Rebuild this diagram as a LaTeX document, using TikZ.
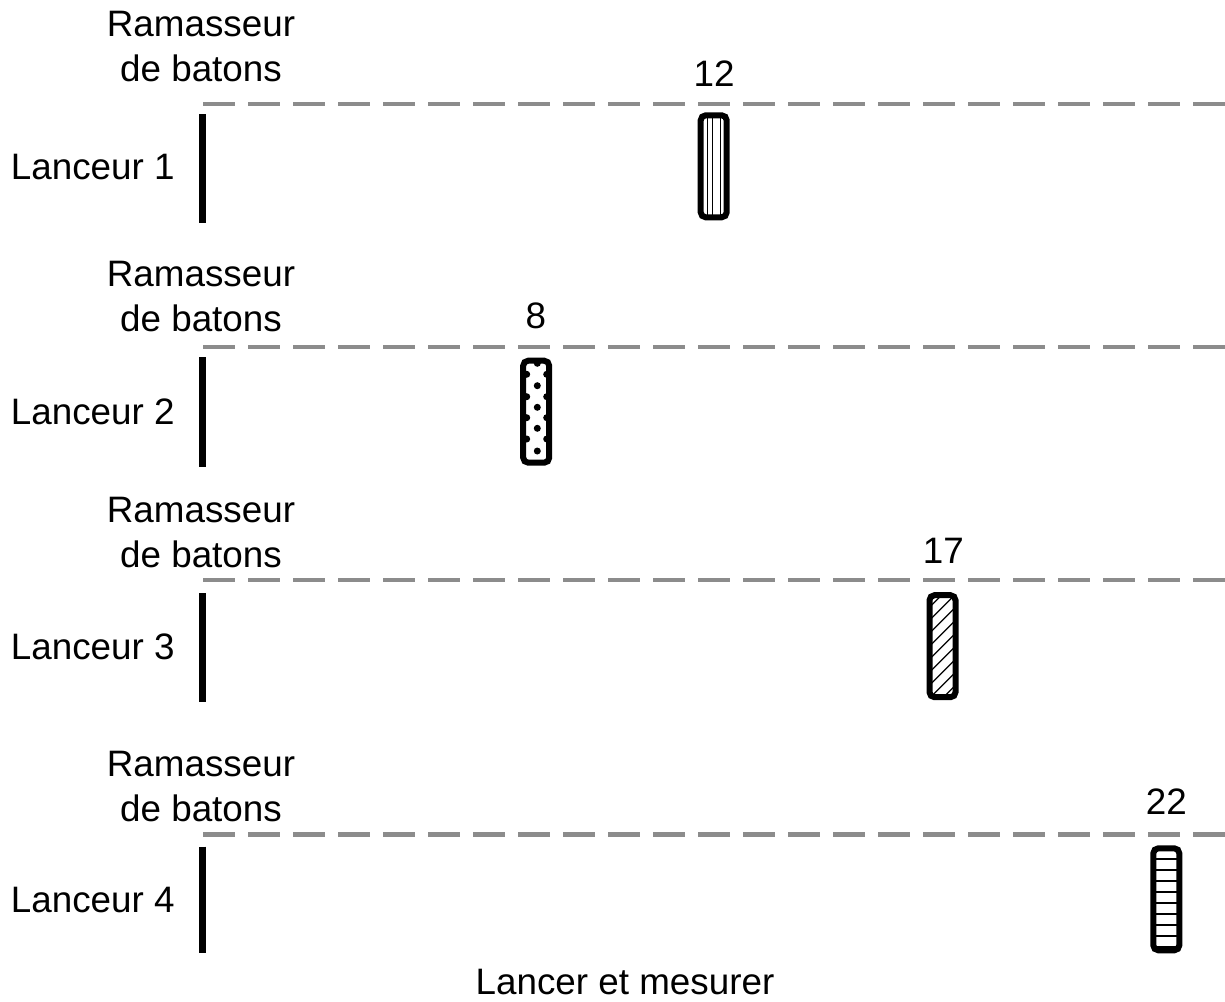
\documentclass[tikz,border=0pt]{standalone}
\usepackage{fontspec}
\setmainfont{Liberation Sans}
\begin{document}
\begin{tikzpicture}[x=0.5pt,y=-0.5pt,
  lbl/.style={font=\fontsize{18.4}{22.5}\selectfont, inner sep=0pt, align=center},
  track/.style={draw={rgb,255:red,140;green,140;blue,140}, line width=2.2pt, dash pattern=on 16pt off 6.5pt},
  bar/.style={draw=black, line width=3.5pt},
  stick/.style={draw=black, fill=white, line width=3pt, rounded corners=2.5pt,
    minimum width=13pt, minimum height=51pt, inner sep=0pt},
  hatchline/.style={draw=black, line width=0.65pt},
  dot/.style={fill=black},
  vlines/.style={path picture={
    \foreach \dx in {-3.2,-0.6,3.3}
      \draw[hatchline] ([xshift=\dx*1pt]path picture bounding box.north) -- ([xshift=\dx*1pt]path picture bounding box.south);}},
  dots/.style={path picture={
    \foreach \dy in {24.2,13,2.2,-8.3,-19.65}
      \fill[dot] ([xshift=0.55pt,yshift=\dy*1pt]path picture bounding box.center) circle[radius=1.75pt];
    \foreach \dy in {18.7,7.5,-3,-13.65}{
      \fill[dot] ([xshift=-4.75pt,yshift=\dy*1pt]path picture bounding box.center) circle[radius=1.75pt];
      \fill[dot] ([xshift=5.25pt,yshift=\dy*1pt]path picture bounding box.center) circle[radius=1.75pt];}}},
  hatch/.style={path picture={
    \foreach \k in {-7,...,7}
      \draw[hatchline] ([xshift=-12pt,yshift=\k*6.5pt-12pt]path picture bounding box.center) -- ++(24pt,24pt);}},
  hlines/.style={path picture={
    \foreach \k in {0,...,8}
      \draw[hatchline] ([yshift=20.15pt-\k*5.5pt]path picture bounding box.west) -- ([yshift=20.15pt-\k*5.5pt]path picture bounding box.east);}}
]
\useasboundingbox (0,0) rectangle (1225,1001);

% Row 1
\node[lbl] (r1) at (201,46.3) {Ramasseur\\de batons};
\node[lbl, anchor=east] (l1) at (175,167) {Lanceur 1};
\coordinate (t1s) at (203,104);
\coordinate (t1e) at (1225,104);
\coordinate (b1t) at (202,114);
\coordinate (b1b) at (202,223);
\draw[track] (t1s) -- (t1e);
\draw[bar] (b1t) -- (b1b);
\node[lbl] (n1) at (714,73.5) {12};
\node[stick, vlines] (s1) at (713.7,166.3) {};

% Row 2
\node[lbl] (r2) at (201,296.3) {Ramasseur\\de batons};
\node[lbl, anchor=east] (l2) at (175,412) {Lanceur 2};
\coordinate (t2s) at (203,347);
\coordinate (t2e) at (1225,347);
\coordinate (b2t) at (202,357);
\coordinate (b2b) at (202,466.7);
\draw[track] (t2s) -- (t2e);
\draw[bar] (b2t) -- (b2b);
\node[lbl] (n2) at (535.8,315.8) {8};
\node[stick, dots] (s2) at (536.2,411.7) {};

% Row 3
\node[lbl] (r3) at (201,533) {Ramasseur\\de batons};
\node[lbl, anchor=east] (l3) at (175,647) {Lanceur 3};
\coordinate (t3s) at (203,580);
\coordinate (t3e) at (1225,580);
\coordinate (b3t) at (202,593.3);
\coordinate (b3b) at (202,701.7);
\draw[track] (t3s) -- (t3e);
\draw[bar] (b3t) -- (b3b);
\node[lbl] (n3) at (943.3,550.8) {17};
\node[stick, hatch] (s3) at (942.5,646.2) {};

% Row 4
\node[lbl] (r4) at (201,786.3) {Ramasseur\\de batons};
\node[lbl, anchor=east] (l4) at (175,900) {Lanceur 4};
\coordinate (t4s) at (203,834.3);
\coordinate (t4e) at (1225,834.3);
\coordinate (b4t) at (202,846.7);
\coordinate (b4b) at (202,953.3);
\draw[track] (t4s) -- (t4e);
\draw[bar] (b4t) -- (b4b);
\node[lbl] (n4) at (1166.3,801.7) {22};
\node[stick, hlines] (s4) at (1166.3,899.3) {};

% Caption
\node[lbl] (cap) at (625,982.5) {Lancer et mesurer};
\end{tikzpicture}
\end{document}
